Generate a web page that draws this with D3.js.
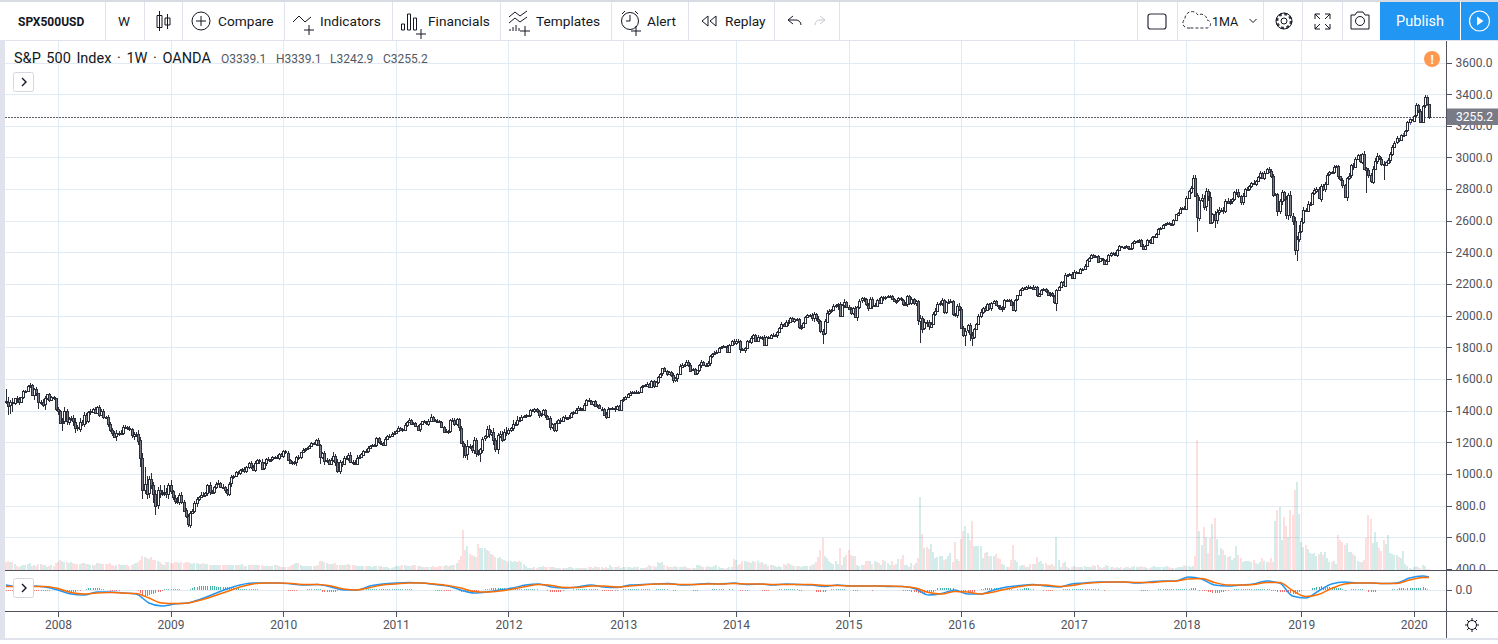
<!DOCTYPE html>
<html>
<head>
<meta charset="utf-8">
<style>
html, body { margin: 0; padding: 0; background: #fff; overflow: hidden; }
svg { display: block; font-family: Roboto, sans-serif; }
</style>
<script src="https://cdnjs.cloudflare.com/ajax/libs/d3/7.8.5/d3.min.js"></script>
</head>
<body>
<svg id="chart" width="1498" height="644"></svg>
<script>
// Weekly closes, one line per year (2007 starts at week of 23 Jul)
const firstOpen = 1462;
const closes = [
1458,1433,1453,1445,1479,1473,1453,1484,1525,1526,1557,1561,1500,1535,1509,1453,1458,1440,1481,1504,1467,1484,1478,
1411,1401,1325,1330,1396,1331,1349,1353,1331,1294,1288,1330,1316,1370,1332,1390,1398,1414,1389,1426,1375,1400,1361,1360,1318,1278,1262,1239,1261,1258,1261,1296,1298,1292,1283,1242,1252,1255,1213,1100,899,940,877,968,930,873,800,896,876,879,887,872,
931,890,850,832,825,868,826,770,735,683,756,768,816,842,856,870,866,877,929,882,887,919,940,946,921,918,896,879,940,979,987,1010,1004,1026,1029,1016,1042,1068,1044,1025,1071,1087,1079,1036,1069,1093,1091,1091,1105,1106,1102,1126,
1115,1145,1136,1091,1073,1066,1075,1109,1104,1138,1150,1159,1167,1178,1194,1192,1217,1186,1110,1135,1087,1089,1064,1091,1117,1076,1022,1078,1064,1102,1101,1121,1079,1071,1064,1104,1109,1125,1148,1146,1165,1176,1183,1183,1225,1199,1199,1189,1224,1240,1243,1256,1257,
1271,1293,1283,1276,1310,1329,1343,1319,1321,1304,1279,1313,1332,1328,1319,1337,1363,1340,1338,1333,1331,1300,1271,1271,1268,1339,1344,1316,1345,1292,1199,1178,1123,1176,1173,1154,1216,1136,1131,1155,1224,1238,1285,1253,1263,1215,1158,1244,1255,1219,1265,1257,
1277,1289,1315,1316,1344,1342,1361,1365,1370,1370,1404,1397,1408,1398,1370,1378,1403,1369,1353,1295,1317,1278,1325,1342,1335,1362,1355,1356,1362,1385,1390,1406,1418,1411,1407,1437,1466,1460,1441,1460,1429,1433,1412,1414,1379,1360,1409,1416,1418,1413,1430,1402,
1466,1472,1486,1503,1513,1518,1520,1516,1518,1551,1560,1556,1569,1553,1588,1555,1582,1614,1633,1667,1649,1631,1643,1626,1592,1606,1631,1680,1692,1691,1710,1691,1656,1664,1633,1655,1688,1710,1692,1691,1703,1745,1759,1762,1771,1798,1804,1806,1805,1775,1818,1841,
1831,1842,1839,1790,1783,1797,1839,1836,1859,1878,1841,1866,1857,1865,1816,1864,1863,1881,1878,1878,1900,1923,1949,1936,1962,1960,1985,1967,1978,1978,1925,1931,1955,1992,2003,2007,1985,2010,1982,1967,1906,1886,1964,2018,2032,2039,2064,2067,2075,2002,2070,2088,
2058,2044,2019,2051,1994,2055,2096,2110,2104,2071,2053,2108,2061,2066,2102,2081,2117,2108,2116,2122,2126,2107,2092,2094,2109,2101,2076,2076,2126,2079,2103,2077,2091,1970,1988,1921,1961,1958,1931,1951,2014,2033,2075,2079,2099,2023,2089,2090,2091,2012,2005,2060,2043,
1922,1880,1906,1940,1880,1864,1917,1948,1999,2022,2049,2035,2072,2047,2080,2091,2065,2057,2046,2052,2099,2099,2096,2071,2037,2102,2129,2161,2175,2173,2183,2184,2183,2169,2179,2127,2139,2164,2168,2153,2133,2141,2126,2085,2164,2181,2213,2191,2259,2258,2263,2238,
2276,2274,2271,2294,2297,2316,2351,2367,2383,2372,2378,2343,2362,2355,2328,2348,2384,2399,2390,2381,2415,2439,2431,2433,2438,2423,2425,2459,2472,2472,2476,2441,2425,2443,2476,2461,2500,2502,2519,2549,2553,2575,2581,2587,2582,2578,2602,2642,2652,2675,2683,2674,
2743,2786,2810,2873,2762,2620,2732,2747,2691,2786,2752,2588,2640,2604,2656,2670,2670,2663,2728,2713,2721,2735,2779,2780,2755,2718,2759,2801,2802,2819,2840,2833,2850,2875,2902,2872,2905,2930,2914,2885,2767,2767,2658,2723,2781,2736,2632,2760,2633,2600,2416,2485,
2531,2596,2670,2664,2706,2707,2775,2792,2803,2743,2822,2800,2834,2892,2907,2905,2939,2945,2881,2859,2826,2750,2873,2886,2950,2941,2990,3013,2976,3025,2932,2918,2888,2847,2926,2978,3007,2992,2961,2952,2970,2986,3022,3066,3093,3120,3110,3140,3145,3168,3221,3240,
3234,3265,3329,3295,3225,3327,3380,3337,3255.2
];

// Wick above the body and below it, in index points, 13 weeks a line
const upperWick = [
75,28,14,25,4,12,14,2,5,2,7,15,8,
10,16,6,10,16,10,4,6,8,7,5,11,4,
22,28,15,14,12,18,20,16,24,12,22,18,8,
14,6,12,6,9,10,14,8,15,12,14,9,16,
10,18,12,14,8,14,10,16,8,24,20,30,104,
45,17,37,18,26,22,34,20,42,26,15,30,12,
18,20,14,18,10,16,12,10,8,16,12,8,14,
16,12,8,22,14,8,12,18,6,14,8,10,9,
12,8,6,12,6,10,14,8,6,14,12,10,7,
8,14,10,8,12,6,10,8,12,6,4,8,6,
8,6,12,10,6,10,4,12,8,4,8,6,9,
4,8,4,6,8,10,4,8,22,10,18,8,6,
14,10,12,18,8,16,14,10,8,6,12,9,7,
4,8,10,8,12,6,12,8,10,8,12,6,8,
6,8,10,6,8,4,8,10,4,12,6,8,5,
8,14,4,6,8,10,6,4,12,10,6,8,7,
12,10,9,10,14,40,12,8,15,9,14,12,10,
8,18,24,16,26,12,14,20,14,18,30,16,10,
24,12,22,16,12,8,10,6,8,6,10,8,6,
8,10,6,4,12,8,6,8,4,14,6,8,6,
12,8,6,10,14,6,8,10,8,12,6,4,8,
10,8,8,6,10,12,4,8,10,6,8,4,12,
6,8,10,6,6,12,8,6,4,8,10,8,5,
6,8,4,6,6,8,10,8,6,12,10,6,16,
8,6,12,8,10,8,6,4,10,8,6,8,8,
6,4,14,10,6,8,12,6,8,4,6,10,12,
8,6,8,6,10,6,12,8,6,10,8,6,14,
8,6,6,10,6,4,8,12,6,8,8,6,10,
8,6,8,12,6,8,10,6,8,12,6,14,8,
10,16,18,8,6,10,6,8,14,6,16,8,8,
12,6,10,8,12,6,8,6,10,8,12,14,6,
10,8,6,8,10,6,8,6,8,12,10,6,8,
8,6,16,12,8,10,14,8,18,10,14,8,12,
16,14,12,10,8,6,14,12,10,8,14,18,12,
14,16,10,12,18,8,6,14,18,8,10,6,8,
10,8,6,4,8,12,6,8,6,8,14,6,4,
10,6,8,6,8,6,12,8,10,4,6,8,8,
8,6,12,8,6,4,8,6,10,6,8,12,10,
6,4,6,4,8,6,4,6,4,8,6,4,6,
4,8,6,4,6,10,4,6,4,8,6,4,6,
4,6,4,8,6,10,4,6,8,6,4,6,4,
6,4,8,6,4,6,8,4,6,10,4,8,12,
10,8,14,16,12,20,24,16,18,12,30,10,24,
16,20,12,18,10,14,16,12,8,18,20,10,16,
8,10,6,8,18,6,8,10,8,12,6,10,14,
8,6,10,16,14,10,22,18,30,14,26,20,40,
24,14,12,18,10,8,14,10,8,12,10,12,8,
10,6,12,8,6,4,10,8,6,16,8,14,16,
10,12,6,14,8,18,14,20,16,24,8,12,14,
10,8,12,14,8,16,6,10,8,6,8,10,6,
6,14,8,10,6,14,15,2
];

const lowerWick = [
15,60,55,50,10,25,15,5,10,10,5,15,5,
35,15,40,20,15,35,15,10,5,10,10,25,12,
55,12,22,20,14,30,32,18,20,12,20,14,10,
16,10,12,8,14,10,16,14,18,14,20,12,30,
16,12,14,10,12,14,16,24,20,32,58,59,28,
37,30,22,55,59,20,26,14,18,22,30,18,14,
20,16,22,14,12,14,17,24,10,16,22,12,10,
10,12,18,14,10,16,14,12,10,8,14,18,16,
20,10,8,12,10,16,8,10,12,14,8,10,9,
14,12,8,16,10,14,8,10,8,12,6,14,11,
10,6,8,10,22,14,12,6,8,10,6,4,8,
14,10,45,14,28,18,8,10,12,24,14,20,18,
10,14,18,12,16,10,8,12,10,6,8,10,7,
8,4,12,8,14,6,4,8,10,6,12,4,8,
6,8,4,10,8,12,4,6,8,16,4,6,9,
14,8,10,12,4,10,8,14,6,18,10,8,10,
14,22,12,77,24,36,16,18,28,30,20,57,20,
18,12,26,14,34,18,30,14,18,12,16,12,10,
16,8,10,14,10,6,8,10,12,8,10,12,14,
10,4,12,10,18,8,14,10,4,16,8,6,6,
8,10,12,4,8,14,6,8,10,4,6,12,8,
14,4,6,14,10,8,6,12,18,8,4,6,14,
6,4,8,10,8,6,4,6,6,4,8,6,5,
10,6,12,8,14,4,10,6,14,16,10,22,8,
6,10,8,16,14,6,4,10,8,16,6,8,12,
18,10,8,6,4,10,8,10,6,12,4,18,14,
6,24,8,16,10,8,14,8,6,10,4,10,6,
8,6,4,12,10,16,12,8,10,6,22,8,6,
12,8,10,14,6,4,8,12,16,24,18,20,14,
66,10,8,12,14,6,12,30,8,10,20,10,6,
16,14,10,28,10,14,20,12,26,10,16,8,12,
6,8,14,10,6,4,10,8,16,10,6,14,10,
20,8,10,12,14,28,140,30,12,26,18,10,12,
16,8,12,20,10,14,16,8,12,10,22,10,8,
16,68,14,40,54,14,10,8,12,8,10,6,12,
16,8,6,14,10,20,14,8,6,12,6,14,10,
6,4,8,10,8,14,6,4,8,10,6,4,12,
8,14,10,8,55,10,8,6,8,6,10,8,5,
4,6,8,4,6,8,4,6,4,8,6,4,6,
10,6,8,14,4,6,8,4,6,10,4,8,6,
8,4,6,10,4,12,6,4,6,8,4,6,8,
8,4,6,4,6,10,8,4,6,4,8,4,6,
4,14,8,10,90,20,14,22,28,30,10,8,50,
24,18,14,20,16,10,12,16,8,14,10,18,16,
8,6,12,10,8,14,6,10,8,12,6,8,14,
14,10,30,18,26,14,22,30,16,24,30,70,22,
10,14,8,10,12,6,10,14,8,22,10,18,8,
10,6,12,8,14,10,22,8,22,14,16,22,10,
8,12,18,10,143,16,10,14,8,18,10,14,97,
8,12,20,10,8,6,12,8,10,6,8,14,6,
10,8,12,10,6,14,12,12
];

// Volume per week, in pane units
const volumes = [
8,9,8,8,6,4,3,4,5,5,6,7,4,
5,4,6,6,5,5,3,4,5,4,7,8,10,
9,8,8,7,8,7,6,6,6,7,7,6,6,
5,5,5,7,7,6,6,6,6,7,5,4,5,
6,5,5,5,5,4,5,6,7,8,10,14,13,
12,11,13,10,10,9,8,6,5,8,8,7,7,
8,8,7,8,7,8,8,7,6,7,7,6,6,
7,6,6,5,5,5,5,5,5,5,5,5,5,
5,5,5,5,5,6,4,4,5,5,5,5,5,
5,5,4,4,4,4,4,5,5,4,3,3,3,
3,4,5,6,7,7,5,4,4,4,4,4,4,
4,5,9,9,8,7,6,6,6,7,5,5,5,
5,5,6,5,5,5,4,4,4,4,4,4,4,
3,4,4,4,4,3,3,3,2,2,3,4,4,
4,5,5,4,4,4,5,5,4,4,3,3,3,
3,3,4,3,3,4,4,4,5,4,4,5,5,
7,10,14,40,20,24,16,15,14,13,26,22,22,
22,20,19,16,15,13,12,13,11,10,9,8,9,
8,9,8,9,8,6,4,2,2,2,3,2,3,
3,4,3,3,3,3,3,2,2,2,2,2,2,
3,3,2,2,2,2,2,2,2,3,3,2,4,
3,3,3,2,3,2,5,3,3,3,4,2,3,
3,3,3,2,3,3,3,2,2,2,3,5,4,
4,3,8,7,8,5,4,3,3,3,4,3,3,
3,4,3,2,2,2,2,5,5,4,3,3,4,
3,3,4,5,3,2,2,1,2,3,3,11,10,
5,6,9,9,8,8,7,9,8,9,7,8,6,
6,4,5,5,4,3,4,3,6,5,7,6,5,
4,4,4,3,4,4,4,4,5,6,8,13,20,
32,14,12,9,7,6,9,6,22,5,13,15,20,
15,14,14,5,4,5,5,9,9,9,6,9,8,
7,5,10,9,7,5,9,5,6,11,11,15,5,
5,3,7,5,7,12,73,36,22,23,21,26,18,
12,13,14,14,10,11,14,17,8,28,11,9,31,
39,44,37,30,49,24,24,24,24,12,17,18,14,
14,14,16,12,11,6,5,3,3,10,25,10,8,
4,5,5,3,3,6,6,6,13,8,9,6,7,
5,5,6,4,33,10,3,7,8,3,2,3,4,
3,3,3,3,4,3,3,3,5,4,5,3,2,
3,5,4,3,3,2,3,2,3,2,3,3,2,
3,4,3,3,4,3,3,2,2,3,4,3,3,
3,3,3,4,3,2,2,2,3,3,3,5,4,
4,3,4,14,130,39,25,43,33,17,32,46,52,
31,15,22,20,15,13,14,10,12,24,15,12,8,
9,9,9,8,10,7,6,8,12,9,8,8,12,
8,49,60,63,30,53,44,33,60,55,80,88,56,
28,23,25,21,17,16,17,14,16,18,15,18,12,
8,8,9,6,35,30,28,25,27,18,18,16,14,
9,8,8,10,32,55,51,27,38,28,22,19,30,
26,35,17,16,15,15,13,12,19,6,4,2,1,
3,4,3,2,5,4,1,1
];

// MACD histogram per week, in pane units
const macdHist = [
-1,-1,-1,-1,0,0,0,0,0,0,0,0,0,
-1,-1,-1,-1,-1,-1,-1,-1,0,0,0,0,-1,
-1,-1,-2,-2,-2,-2,-2,-1,-1,0,0,1,2,
2,2,2,2,2,1,1,0,0,-1,-1,-1,-1,
-1,0,0,0,0,0,0,0,0,-1,-3,-6,-6,
-6,-5,-4,-4,-3,-2,-2,-1,1,1,1,1,1,
1,1,1,0,0,0,0,1,2,3,3,4,4,
4,4,4,4,4,4,3,3,3,3,3,3,3,
3,3,2,2,1,1,1,1,1,1,1,1,1,
0,0,0,0,0,0,0,0,0,0,0,0,0,
-1,-1,-1,-1,-1,0,0,0,0,1,1,1,1,
1,1,1,-2,-2,-2,-2,-2,-2,-2,-1,1,1,
1,1,1,1,1,1,1,1,1,1,1,1,1,
1,1,1,1,1,1,1,1,1,1,1,1,1,
1,1,1,1,1,1,0,0,0,0,0,0,0,
0,0,0,-1,-1,-1,-1,-1,-1,-1,-1,0,0,
0,-1,-2,-2,-2,-2,-2,-2,-2,-1,-1,0,0,
1,1,1,2,2,2,2,2,2,2,1,1,1,
1,1,1,1,1,1,1,1,1,1,1,1,0,
0,0,0,-1,-2,-2,-2,-2,-2,-2,-1,0,0,
0,0,1,1,1,1,1,1,1,1,1,1,1,
1,0,-1,-1,-1,-1,-1,-1,-1,-1,0,0,1,
1,1,1,1,1,1,1,1,1,1,1,1,0,
0,1,1,1,1,1,1,0,0,-1,-1,0,0,
0,0,0,0,0,-1,-1,-1,0,0,0,0,0,
0,1,1,1,1,1,1,0,0,1,1,0,0,
0,-1,-1,-1,-1,0,0,0,0,0,0,-1,-1,
-1,-1,0,0,0,0,1,1,1,1,1,1,1,
1,1,-1,-1,0,0,0,0,0,0,-2,-2,-2,
-2,-2,0,0,1,1,1,1,1,1,1,0,0,
0,-1,-1,-1,0,0,0,0,0,0,-1,0,0,
0,0,0,0,0,0,0,0,0,0,0,-1,-1,
-1,-1,-2,-2,-2,-3,-3,-3,-3,-3,-2,-2,-2,
-1,2,2,2,2,2,2,2,2,0,0,0,-1,
-2,-2,-3,-3,-2,-2,0,0,1,1,2,2,2,
2,2,2,1,1,1,1,1,1,1,0,0,1,
1,1,2,2,2,1,1,0,0,0,0,-1,-1,
-1,-1,-1,0,0,0,0,1,1,1,1,1,1,
1,1,1,1,1,1,1,1,1,1,1,0,0,
-1,0,0,0,0,0,0,0,0,0,0,0,0,
0,0,0,0,-1,-1,-1,-1,0,0,0,0,1,
1,1,1,1,1,1,1,1,1,1,1,1,1,
1,2,2,2,0,-1,-1,-1,-1,-2,-2,-3,-3,
-3,-3,-2,-2,-1,-1,0,0,1,1,1,1,1,
1,1,1,1,1,1,1,1,1,1,1,1,-1,
-1,-1,-2,-2,-2,-2,-2,-3,-3,-4,-4,-3,-2,
-1,0,0,0,0,2,2,3,3,4,3,4,3,
3,3,2,2,2,2,1,-1,0,0,1,1,1,
1,1,1,0,0,-2,-2,-2,-2,0,0,0,0,
0,0,0,1,1,1,2,2,2,1,2,2,2,
2,2,2,2,3,2,1,0
];

// MACD and signal lines, one reading every 6 weeks plus the last week
const macdLine = [
4.5,2.5,3.5,2.5,-0.5,-4.5,-5.5,-2.5,-2.5,-3.5,-4.5,-13.5,-16.5,-14.5,-13.5,-9.5,-4.5,0.5,4.5,6.5,
6.5,6.5,5.5,4.5,5,2.5,-0.5,-0.5,3.5,5.5,6.5,7,6.5,5,3.5,-0.5,-3.5,-2.5,-0.5,1.5,
4.5,5.5,2.5,1.5,2.5,4.5,2.5,2,4.5,5,5.5,6,4.5,5,6,5.5,6.5,5,5.5,4.5,
5.5,5,4.5,3,4.5,3.5,3.5,3.5,3,3,0.5,-5.5,-4,-0.5,-4.5,-4.5,-0.5,2.5,4,5,
3.5,2.5,5.5,6.5,7.5,7.5,7.5,6.5,7.5,8.5,8.5,12.5,10.5,4.5,3.5,4.5,5.5,8.5,6.5,-6.5,
-8.5,-1.5,5.5,7.5,6.5,6.5,6,6.5,11.5,13.5,12.5
];
const signalLine = [
3,3,3,3,1,-3,-4.5,-3.5,-3,-3.5,-4,-8.5,-13.5,-14,-13.5,-10.5,-6.5,-2,2.5,5.5,
6.5,6.5,6,5,5,3.5,0.5,-0.5,2,4.5,5.5,6.5,6.5,5.5,4,1.5,-2,-2.5,-1.5,0.5,
3,5,4,2,2,3.5,3.5,2.5,3.5,4.5,5.5,5.5,5,5,5.5,5.5,6,5.5,5.5,5,
5,5,5,4,4,3.5,3.5,3.5,3.5,3,1.5,-3,-4.5,-2,-2.5,-4.5,-2.5,0.5,3,4.5,
4.5,3,4,6,7,7.5,7.5,7,7,8,8.5,10.5,11,7,4.5,4.5,5,7,7,-1,
-7,-5,1,5.5,6.5,6.5,6,6,9.5,12,12
];

const priceTicks = [400,600,800,1000,1200,1400,1600,1800,2000,2200,2400,2600,2800,3000,3200,3400,3600];
const purpleWeeks = [637,644,645,648,656];
const toolLabels = [["Compare",218],["Indicators",320],["Financials",428],["Templates",536],["Alert",647],["Replay",725]];
const toolDividers = [105,144,182,284,392,500,611,688,774,839,1137,1177,1263,1302,1342];

const svg = d3.select("#chart");
const ink = "#131722", axisInk = "#50535e", gridCol = "#e1ebf3";

// Weeks and scales
const weeks = closes.map((d, i) => d3.timeMonday.offset(new Date(2007, 6, 23), i));
const yearStarts = weeks.filter((d, i) => i > 0 && d.getFullYear() !== weeks[i - 1].getFullYear());
const macdWeeks = d3.range(0, closes.length, 6).concat(closes.length - 1);

const x = d3.scaleTime().domain([weeks[0], weeks[weeks.length - 1]]).range([6, 1429]);
const y = d3.scaleLinear().domain([400, 3600]).range([569, 62.5]);
const yVol = d3.scaleLinear().domain([0, 132]).range([570, 438]);
const yMacd = d3.scaleLinear().domain([-21.5, 18.5]).range([611, 571]);
const px = v => Math.round(v) + 0.5;

// Candle table
const candles = closes.map((c, i) => {
  const o = i ? closes[i - 1] : firstOpen;
  return { i, date: weeks[i], o, c, hi: Math.max(o, c) + upperWick[i], lo: Math.min(o, c) - lowerWick[i], vol: volumes[i], hist: macdHist[i] };
});

svg.append("defs").append("clipPath").attr("id", "plot").append("rect").attr("x", 5).attr("y", 41).attr("width", 1441).attr("height", 529);
svg.select("defs").append("clipPath").attr("id", "priceLabels").append("rect").attr("x", 1447).attr("y", 41).attr("width", 51).attr("height", 529);

// Grid
const grid = svg.append("g").attr("shape-rendering", "crispEdges").attr("stroke", gridCol);
grid.selectAll(".h").data(priceTicks.slice(1)).enter().append("line")
  .attr("x1", 5).attr("x2", 1446).attr("y1", d => px(y(d))).attr("y2", d => px(y(d)));
grid.selectAll(".v").data(yearStarts).enter().append("line")
  .attr("x1", d => px(x(d))).attr("x2", d => px(x(d))).attr("y1", 41).attr("y2", 611);
grid.append("line").attr("x1", 5).attr("x2", 1446).attr("y1", px(yMacd(0))).attr("y2", px(yMacd(0)));

// Volume
svg.append("g").attr("clip-path", "url(#plot)").selectAll("rect").data(candles).enter().append("rect")
  .attr("x", d => Math.round(x(d.date)) - 1).attr("width", 2)
  .attr("y", d => yVol(d.vol)).attr("height", d => yVol(0) - yVol(d.vol))
  .attr("fill", d => d.c >= d.o ? "#26a69a" : "#ef5350").attr("opacity", d => d.c >= d.o ? 0.2 : 0.19);

// Last price line
svg.append("line").attr("x1", 5).attr("x2", 1446).attr("y1", px(y(3255.2))).attr("y2", px(y(3255.2)))
  .attr("stroke", "#5d606b").attr("stroke-dasharray", "2 1").attr("shape-rendering", "crispEdges");

// Candles
const candleG = svg.append("g").attr("clip-path", "url(#plot)").attr("shape-rendering", "crispEdges");
const candle = candleG.selectAll("g").data(candles).enter().append("g");
candle.append("line")
  .attr("x1", d => px(x(d.date))).attr("x2", d => px(x(d.date)))
  .attr("y1", d => y(d.hi)).attr("y2", d => y(d.lo))
  .attr("stroke", d => purpleWeeks.includes(d.i) ? "#6f63e0" : "#2a2e39");
candle.append("rect")
  .attr("x", d => px(x(d.date)) - 1).attr("width", 2)
  .attr("y", d => Math.round(y(Math.max(d.o, d.c))) + 0.5)
  .attr("height", d => Math.max(1, Math.round(Math.abs(y(d.o) - y(d.c)))))
  .attr("fill", d => d.c >= d.o ? "#fff" : "#787b86")
  .attr("stroke", "#2a2e39");

// MACD pane
svg.append("g").attr("shape-rendering", "crispEdges").selectAll("rect").data(candles.filter(d => d.hist !== 0)).enter().append("rect")
  .attr("x", d => Math.round(x(d.date))).attr("width", 1)
  .attr("y", d => d.hist > 0 ? yMacd(d.hist) : yMacd(0))
  .attr("height", d => Math.abs(yMacd(d.hist) - yMacd(0)))
  .attr("fill", d => d.hist > 0 ? "#26a69a" : "#ef5350").attr("opacity", d => Math.abs(d.hist) > 1 ? 0.85 : 0.7);

const macdPath = d3.line().x(i => x(weeks[i])).curve(d3.curveMonotoneX);
svg.append("path").datum(macdWeeks).attr("fill", "none").attr("stroke", "#2196f3").attr("stroke-width", 1.5)
  .attr("d", macdPath.y((d, k) => yMacd(macdLine[k])));
svg.append("path").datum(macdWeeks).attr("fill", "none").attr("stroke", "#ff6d00").attr("stroke-width", 1.5)
  .attr("d", macdPath.y((d, k) => yMacd(signalLine[k])));

// Panel frame
const frame = svg.append("g").attr("shape-rendering", "crispEdges");
frame.append("rect").attr("x", 0).attr("y", 41).attr("width", 5).attr("height", 598).attr("fill", "#e0e3eb");
frame.append("rect").attr("x", 0).attr("y", 0).attr("width", 1498).attr("height", 2).attr("fill", "#d9dbe2");
frame.append("rect").attr("x", 0).attr("y", 638).attr("width", 1498).attr("height", 2).attr("fill", "#e0e3eb");
frame.append("rect").attr("x", 0).attr("y", 40).attr("width", 1498).attr("height", 1).attr("fill", "#e0e3eb");
frame.selectAll(".sep").data([570, 611]).enter().append("line").attr("x1", 5).attr("x2", 1498)
  .attr("y1", d => d + 0.5).attr("y2", d => d + 0.5).attr("stroke", "#50535e");
frame.append("line").attr("x1", 1446.5).attr("x2", 1446.5).attr("y1", 41).attr("y2", 638).attr("stroke", "#50535e");

// Axes
const styleAxis = g => {
  g.select(".domain").remove();
  g.selectAll("line").attr("stroke", axisInk).attr("shape-rendering", "crispEdges");
  g.selectAll("text").attr("fill", axisInk).attr("font-size", 12).attr("font-family", "Roboto, sans-serif");
};
svg.append("g").attr("clip-path", "url(#priceLabels)").append("g").attr("transform", "translate(1446.5,0)")
  .call(d3.axisRight(y).tickValues(priceTicks).tickFormat(d3.format(".1f")).tickSize(5).tickPadding(4)).call(styleAxis);
svg.append("g").attr("transform", "translate(1446.5,0)")
  .call(d3.axisRight(yMacd).tickValues([0]).tickFormat(d3.format(".1f")).tickSize(5).tickPadding(4)).call(styleAxis);
svg.append("g").attr("transform", "translate(0,611.5)")
  .call(d3.axisBottom(x).tickValues(yearStarts).tickFormat(d3.timeFormat("%Y")).tickSize(5).tickPadding(4)).call(styleAxis);

// Last price tag
svg.append("rect").attr("x", 1447).attr("y", 108.5).attr("width", 51).attr("height", 16.5).attr("fill", "#787b86");
svg.append("text").attr("x", 1456).attr("y", 121).attr("fill", "#fff").attr("font-size", 12).text("3255.2");

// Legend
const legend = svg.append("g");
legend.append("text").attr("x", 14).attr("y", 63).attr("font-size", 14.5).attr("word-spacing", 2).attr("fill", ink).text("S&P 500 Index · 1W · OANDA");
legend.selectAll(".ohlc").data([["O3339.1", 221], ["H3339.1", 276], ["L3242.9", 330], ["C3255.2", 383]]).enter().append("text")
  .attr("x", d => d[1]).attr("y", 62.5).attr("font-size", 12).attr("fill", "#53585f").text(d => d[0]);

// Small chevron buttons
[[13, 72], [13, 578]].forEach(([bx, by]) => {
  svg.append("rect").attr("x", bx + 0.5).attr("y", by + 0.5).attr("width", 20).attr("height", 19).attr("rx", 2).attr("fill", "#fff").attr("stroke", "#d5d7de");
  svg.append("path").attr("d", `M${bx + 9} ${by + 6}l4 4l-4 4`).attr("fill", "none").attr("stroke", ink).attr("stroke-width", 1.4);
});

// Warning badge
svg.append("circle").attr("cx", 1432).attr("cy", 59).attr("r", 8).attr("fill", "#ff9850");
svg.append("text").attr("x", 1432).attr("y", 63.5).attr("text-anchor", "middle").attr("fill", "#fff").attr("font-size", 12).attr("font-weight", 700).text("!");

// Toolbar
const bar = svg.append("g");
bar.selectAll("line").data(toolDividers).enter().append("line").attr("x1", d => d + 0.5).attr("x2", d => d + 0.5).attr("y1", 2).attr("y2", 40)
  .attr("stroke", "#e0e3eb").attr("shape-rendering", "crispEdges");
bar.append("text").attr("x", 18).attr("y", 26).attr("font-size", 12).attr("font-weight", 700).attr("fill", ink).text("SPX500USD");
bar.append("text").attr("x", 118).attr("y", 26).attr("font-size", 13.5).attr("fill", ink).text("W");
bar.selectAll(".tool").data(toolLabels).enter().append("text").attr("x", d => d[1]).attr("y", 26)
  .attr("font-size", 13.7).attr("fill", ink).text(d => d[0]);
bar.append("text").attr("x", 1212).attr("y", 26).attr("font-size", 12.5).attr("fill", ink).text("1MA");
bar.append("rect").attr("x", 1380).attr("y", 2).attr("width", 118).attr("height", 38).attr("fill", "#2196f3");
bar.append("line").attr("x1", 1460.5).attr("x2", 1460.5).attr("y1", 2).attr("y2", 40).attr("stroke", "#fff");
bar.append("text").attr("x", 1420).attr("y", 26).attr("text-anchor", "middle").attr("font-size", 14.5).attr("fill", "#fff").text("Publish");

// Toolbar icons
const icon = (d, stroke = ink, width = 1) => bar.append("path").attr("d", d).attr("fill", "none").attr("stroke", stroke).attr("stroke-width", width);
icon("M159.5 11v20M157 15.5h5v12h-5zM167.5 14v15M165 18h5v7h-5z");
bar.append("circle").attr("cx", 201).attr("cy", 21).attr("r", 9).attr("fill", "none").attr("stroke", ink);
icon("M196 21h10M201 16v10");
icon("M293 22l6-6 6 6 6-5M309 25v10M304 30h10");
icon("M401.5 24v6h3v-6zM407.5 14v16h3v-16zM413.5 18v12h3v-12zM421 29v10M416 34h10");
icon("M509 17l6-5 5 4 7-5M509 23l6-5 5 4 7-5M510 31v-2M513 31v-4M516 31v-6M519 31v-3M525 26v10M520 31h10");
bar.append("circle").attr("cx", 630).attr("cy", 21).attr("r", 8.5).attr("fill", "none").attr("stroke", ink);
icon("M630 15v6h-4M622 14l3-3M638 14l-3-3M636 26v10M631 31h10");
icon("M708 16l-6 5 6 5zM716 16l-6 5 6 5z");
icon("M793 16l-5 4 5 4M788 20h8a5 5 0 0 1 5 5");
icon("M820 16l5 4-5 4M825 20h-5a5 5 0 0 0-5 5", "#c5c8d0");
bar.append("rect").attr("x", 1148).attr("y", 14).attr("width", 18).attr("height", 15).attr("rx", 2.5).attr("fill", "none").attr("stroke", "#2a2e39").attr("stroke-width", 1.2);
icon("M1190 28h-3a5 5 0 0 1-2-9a7 7 0 0 1 13-4a6 6 0 0 1 9 5a4 4 0 0 1-1 8z", "#2a2e39").attr("stroke-dasharray", "3 2");
icon("M1249.5 19l3.5 3.5 3.5-3.5");
bar.append("circle").attr("cx", 1284).attr("cy", 21).attr("r", 3).attr("fill", "none").attr("stroke", ink);
bar.append("circle").attr("cx", 1284).attr("cy", 21).attr("r", 7).attr("fill", "none").attr("stroke", ink).attr("stroke-width", 2.5).attr("stroke-dasharray", "3 2.5").attr("opacity", 0.85);
bar.append("circle").attr("cx", 1284).attr("cy", 21).attr("r", 8).attr("fill", "none").attr("stroke", ink);
icon("M1315 19v-5h5M1315 14l5 5M1330 19v-5h-5M1330 14l-5 5M1315 24v5h5M1315 29l5-5M1330 24v5h-5M1330 29l-5-5");
icon("M1351 15h4l2-3h6l2 3h4v14h-18z");
bar.append("circle").attr("cx", 1360).attr("cy", 21).attr("r", 4.5).attr("fill", "none").attr("stroke", ink);
bar.append("circle").attr("cx", 1479.5).attr("cy", 21).attr("r", 10).attr("fill", "none").attr("stroke", "#fff").attr("stroke-width", 1.2);
bar.append("path").attr("d", "M1477 16.5l6.5 4.5-6.5 4.5z").attr("fill", "#fff");

// Sun icon in the corner
svg.append("circle").attr("cx", 1472).attr("cy", 625).attr("r", 4.5).attr("fill", "none").attr("stroke", ink);
svg.append("path").attr("d", "M1472 618v2.5M1472 629.5v2.5M1465 625h2.5M1476.5 625h2.5M1467 620l2 2M1475 628l2 2M1477 620l-2 2M1469 628l-2 2")
  .attr("fill", "none").attr("stroke", ink);
</script>
</body>
</html>
